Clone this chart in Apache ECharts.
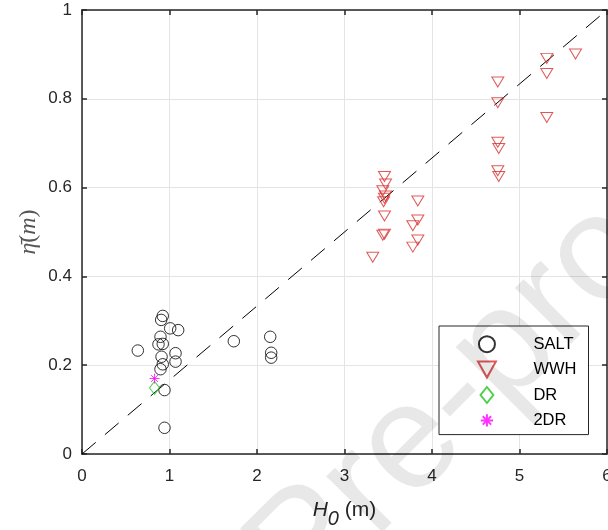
<!DOCTYPE html>
<html>
<head>
<meta charset="utf-8">
<script src="https://cdn.jsdelivr.net/npm/echarts@6/dist/echarts.min.js"></script>
<style>
html,body{margin:0;padding:0;background:#fff;}
#chart{width:608px;height:530px;}
</style>
</head>
<body>
<div id="chart"></div>
<script>
// ---- data ----
const saltH   = [0.923,0.905,1.008,1.099,0.897,0.874,0.923,0.638,1.069,0.909,1.069,0.923,0.897,0.943,0.943,1.735,2.151,2.162,2.162];
const saltEta = [0.311,0.302,0.283,0.279,0.264,0.247,0.248,0.233,0.227,0.219,0.208,0.202,0.191,0.144,0.059,0.254,0.264,0.228,0.217];

const wwhH   = [3.457,3.469,3.438,3.469,3.457,3.447,3.457,3.438,3.457,3.323,3.838,3.838,3.781,3.838,3.781,5.640,5.312,5.312,4.752,4.752,5.312,4.752,4.763,4.752,4.763];
const wwhEta = [0.625,0.608,0.593,0.581,0.576,0.568,0.536,0.493,0.495,0.443,0.570,0.527,0.514,0.482,0.466,0.901,0.891,0.857,0.838,0.791,0.758,0.702,0.688,0.638,0.625];

const drH   = [0.829];
const drEta = [0.149];

const dr2H   = [0.829];
const dr2Eta = [0.170];

const refLineH   = [0, 6];
const refLineEta = [0, 1];

const xTicks = [0, 1, 2, 3, 4, 5, 6];
const yTicks = [0, 0.2, 0.4, 0.6, 0.8, 1];

const seriesNames = ['SALT', 'WWH', 'DR', '2DR'];

// ---- helpers ----
const zip = (a, b) => a.map((v, i) => [v, b[i]]);
const FONT = '"Liberation Sans", Arial, Helvetica, sans-serif';
const SERIF = '"Liberation Serif", "DejaVu Serif", serif';
const AX = '#262626';

const triDown = 'path://M0,0L12,0L6,10Z';
const triDownLeg = 'path://M0,0L19,0L9.5,17Z';
const diamond = 'path://M5,0L10,6.5L5,13L0,6.5Z';
const diamondLeg = 'path://M6,0L12,7.5L6,15L0,7.5Z';
const star = 'path://M5,0L5,10M0,5L10,5M1.6,1.6L8.4,8.4M1.6,8.4L8.4,1.6';
const starLeg = 'path://M-1.5,-1.5M11.5,11.5M5,0L5,10M0,5L10,5M1.6,1.6L8.4,8.4M1.6,8.4L8.4,1.6';

const chart = echarts.init(document.getElementById('chart'), null, {renderer: 'canvas'});

const baseAxis = {
  type: 'value',
  axisLine: {show: true, onZero: false, lineStyle: {color: AX, width: 1.5}},
  axisTick: {show: true, inside: true, length: 5, lineStyle: {color: AX, width: 1.5}},
};

const option = {
  animation: false,
  backgroundColor: '#fff',
  grid: {left: 82, right: 1, top: 10, bottom: 76, containLabel: false, outerBoundsMode: 'none'},
  xAxis: [
    Object.assign({}, baseAxis, {
      min: xTicks[0], max: xTicks[xTicks.length - 1], interval: xTicks[1] - xTicks[0],
      position: 'bottom',
      axisLabel: {fontSize: 17, color: AX, fontFamily: FONT, margin: 14, showMaxLabel: true, showMinLabel: true},
      splitLine: {show: true, lineStyle: {color: '#e4e4e4', width: 1}},
      name: '{i|H}{s|0}{n| (m)}',
      nameLocation: 'middle',
      nameGap: 43,
      nameMoveOverlap: false,
      nameTextStyle: {
        rich: {
          i: {fontSize: 21, fontStyle: 'italic', fontFamily: FONT, color: AX, lineHeight: 26},
          s: {fontSize: 20, fontStyle: 'italic', fontFamily: FONT, color: AX, lineHeight: 26, padding: [18, 0, 0, 0]},
          n: {fontSize: 21, fontFamily: FONT, color: AX, lineHeight: 26}
        }
      }
    }),
    Object.assign({}, baseAxis, {
      min: xTicks[0], max: xTicks[xTicks.length - 1], interval: xTicks[1] - xTicks[0],
      position: 'top',
      axisLabel: {show: false},
      splitLine: {show: false}
    })
  ],
  yAxis: [
    Object.assign({}, baseAxis, {
      min: yTicks[0], max: yTicks[yTicks.length - 1], interval: yTicks[1] - yTicks[0],
      position: 'left',
      axisLabel: {fontSize: 17, color: AX, fontFamily: FONT, margin: 10, showMaxLabel: true, showMinLabel: true},
      splitLine: {show: true, lineStyle: {color: '#e4e4e4', width: 1}},
      name: '{a|η̄}{b|(}{a|m}{b|)}',
      nameLocation: 'middle',
      nameRotate: 90,
      nameGap: 41,
      nameMoveOverlap: false,
      nameTextStyle: {
        rich: {
          a: {fontSize: 24, fontStyle: 'italic', fontFamily: SERIF, color: '#555'},
          b: {fontSize: 24, fontFamily: SERIF, color: '#555'}
        }
      }
    }),
    Object.assign({}, baseAxis, {
      min: yTicks[0], max: yTicks[yTicks.length - 1], interval: yTicks[1] - yTicks[0],
      position: 'right',
      axisLabel: {show: false},
      splitLine: {show: false}
    })
  ],
  legend: {
    data: [
      {name: seriesNames[0], icon: 'circle'},
      {name: seriesNames[1], icon: triDownLeg},
      {name: seriesNames[2], icon: diamondLeg},
      {name: seriesNames[3], icon: starLeg}
    ],
    orient: 'vertical',
    left: 439, top: 326,
    itemWidth: 19, itemHeight: 16, itemGap: 7.4,
    padding: [9.2, 12, 5.2, 38],
    borderColor: AX, borderWidth: 1, borderRadius: 0,
    backgroundColor: '#fff',
    selectedMode: false,
    textStyle: {fontSize: 16.5, lineHeight: 18, color: '#000', fontFamily: FONT, padding: [0, 0, 0, 32]}
  },
  series: [
    {
      type: 'line', name: 'ref', silent: true,
      data: zip(refLineH, refLineEta),
      symbol: 'none',
      lineStyle: {color: '#000', width: 1, type: [18, 12]},
      z: 1
    },
    {
      type: 'scatter', name: seriesNames[0],
      data: zip(saltH, saltEta),
      symbol: 'circle', symbolSize: 11.5,
      itemStyle: {color: 'rgba(0,0,0,0)', borderColor: '#000', borderWidth: 1},
      z: 3
    },
    {
      type: 'scatter', name: seriesNames[1],
      data: zip(wwhH, wwhEta),
      symbol: triDown, symbolSize: [12, 10],
      itemStyle: {color: 'rgba(0,0,0,0)', borderColor: '#d83030', borderWidth: 1},
      z: 3
    },
    {
      type: 'scatter', name: seriesNames[2],
      data: zip(drH, drEta),
      symbol: diamond, symbolSize: [10, 13],
      itemStyle: {color: 'rgba(0,0,0,0)', borderColor: '#22c422', borderWidth: 1},
      z: 3
    },
    {
      type: 'scatter', name: seriesNames[3],
      data: zip(dr2H, dr2Eta),
      symbol: star, symbolSize: 10,
      itemStyle: {color: 'rgba(0,0,0,0)', borderColor: '#ff00ff', borderWidth: 1},
      z: 3
    }
  ],
  graphic: [
    {
      type: 'text',
      x: 222, y: 528,
      rotation: Math.PI / 4,
      silent: true,
      z: 100,
      style: {
        text: 'Pre-proof',
        font: '150px "Liberation Sans", Arial, sans-serif',
        fill: 'rgba(0,0,0,0.09)',
        textAlign: 'left',
        textVerticalAlign: 'alphabetic'
      }
    }
  ]
};

chart.setOption(option);
</script>
</body>
</html>
